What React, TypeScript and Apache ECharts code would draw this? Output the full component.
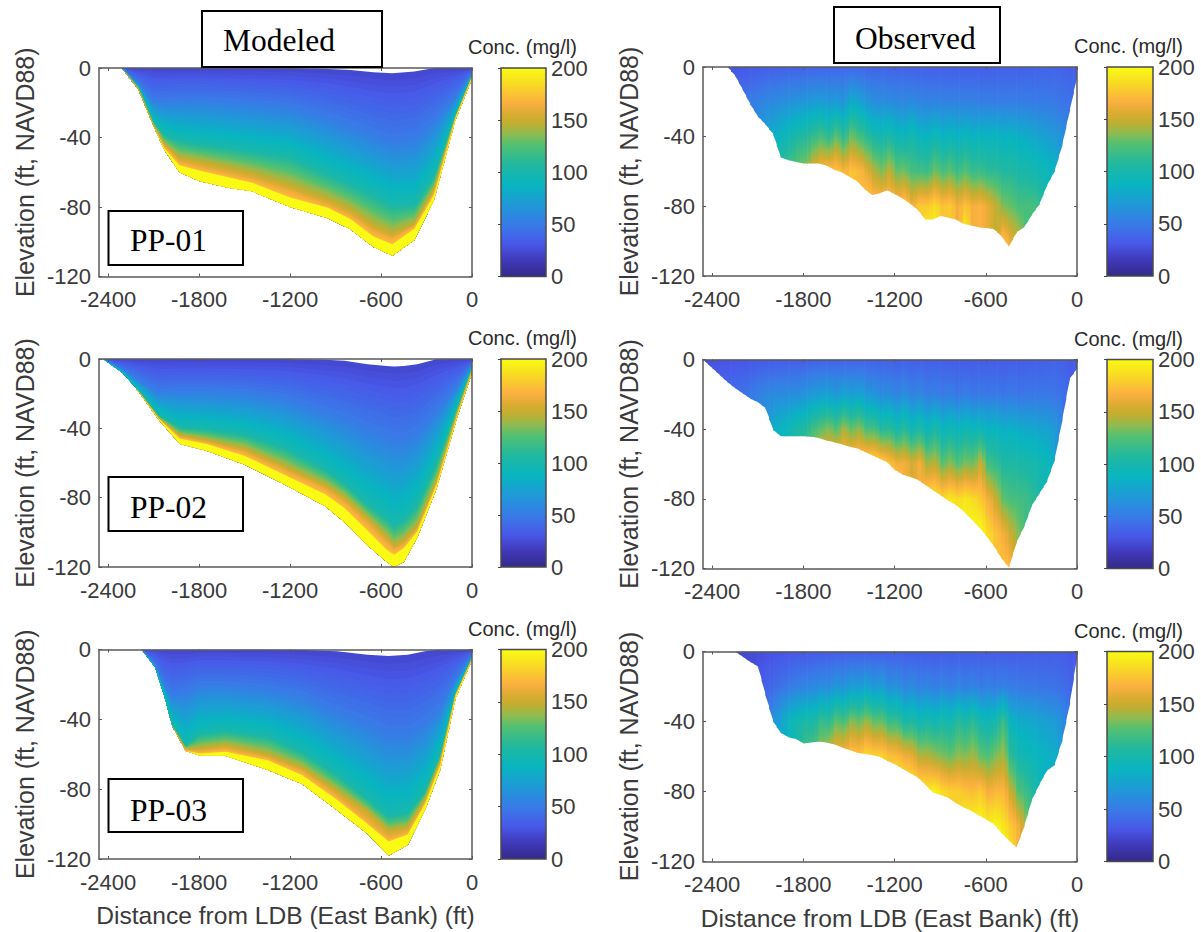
import React, { useEffect, useRef } from "react";
import * as echarts from "echarts";

const xTicks = [-2400, -1800, -1200, -600, 0];
const colorRamp: [number, string][] = [
  [0, "#332a88"], [15, "#4038b8"], [31, "#4858e8"], [48, "#3a78e8"], [68, "#2098d8"], [88, "#08b5c0"],
  [107, "#20b8a0"], [127, "#55c070"], [137, "#90bb50"], [147, "#c0ae30"], [155, "#d8ac30"], [167, "#fbb040"],
  [187, "#f8e020"], [200, "#f9fb15"],
];
const levelConc = [22, 50, 100, 150, 162, 172];
const levelSteps = [10, 18, 18, 5, 3, 1];

// ---- Modeled sections: elevation of each concentration contour at each station
const m1St = [-2310, -2200, -2100, -2030, -1930, -1800, -1600, -1450, -1200, -950, -800, -650, -525, -380, -250, -110, 0];
const m1Top = [0, 0, 0, 0, 0, 0, 0, 0, 0, -0.6, -1.2, -2.5, -3, -2, 0, 0, 0];
const m1Z50 = [0, -9, -19, -19, -18, -18, -19, -20, -22, -28, -33, -38, -42, -40, -30, -17, -3];
const m1Z100 = [0, -11, -31, -38, -41, -43, -45, -47, -50, -60, -66, -72, -78, -78, -62, -27.5, -4.5];
const m1Z150 = [0, -12, -33, -44, -52, -54, -58, -61, -68, -76, -82, -91, -96, -90, -70, -28.5, -5];
const m1Z180 = [0, -12.5, -33.5, -45, -54, -57, -61, -64, -71, -79, -85, -94, -98, -91, -71.5, -29, -5.3];
const m1Z195 = [0, -12.5, -33.5, -46, -56, -59, -63, -66, -74.5, -80.5, -87, -97, -101.5, -92.5, -73, -29, -5.5];
const m1Bed = [0, -12.5, -33.5, -47, -60, -65, -69, -71, -80, -86.5, -93, -103, -108, -99, -76, -30, -6];

const m2St = [-2432, -2305, -2217, -2066, -1927, -1750, -1497, -1245, -967, -841, -689, -563, -513, -449, -361, -235, -96, 0];
const m2Top = [0, 0, 0, 0, 0, 0, 0, 0, -0.5, -1, -3, -4, -4.3, -4, -3, -0.2, 0, 0];
const m2Z50 = [0, -6, -11, -19, -18, -18, -19, -22, -30, -34, -40, -44, -46, -46, -42, -30, -15, -3];
const m2Z100 = [0, -8, -16.6, -32.5, -39, -40, -43, -50, -63, -71, -83, -91, -95, -92, -83, -60, -27, -5];
const m2Z150 = [0, -8, -16.6, -34, -44, -47, -52, -62, -73, -80, -92, -103, -108, -105, -97, -71, -31, -6.5];
const m2Z180 = [0, -8, -16.6, -34.5, -45, -48, -54, -64, -75, -83, -95, -106, -110, -107, -98, -72, -31.5, -7];
const m2Z195 = [0, -8, -16.6, -34.5, -46, -49, -56, -66.5, -78, -86, -99, -110, -113, -109, -99.5, -73, -32, -7.5];
const m2Bed = [0, -8, -16.6, -35, -49, -53, -61, -72, -85, -94, -107.5, -117, -120, -117, -103, -75, -33, -8];

const m3St = [-2179, -2091, -2028, -1977, -1889, -1800, -1624, -1346, -1119, -891, -689, -550, -424, -310, -210, -109, 0];
const m3Top = [0, 0, 0, 0, 0, 0, 0, 0, -0.3, -1, -3, -3.7, -3, -1, 0, 0, 0];
const m3Z50 = [0, -9, -20, -26, -24, -20, -20, -22, -26, -35, -42, -48, -48, -42, -33, -17, -3];
const m3Z100 = [0, -10, -27, -43.5, -55, -48, -46, -49, -58, -71, -85, -95, -93, -81, -60, -25.5, -5];
const m3Z150 = [0, -10, -27, -44, -57, -57, -55, -60.5, -68, -81, -93, -104, -102, -86, -64, -26, -5.2];
const m3Z180 = [0, -10, -27, -44, -57.5, -58.5, -57, -62, -70, -84, -98, -108, -104.5, -87.5, -65.5, -26.3, -5.5];
const m3Z195 = [0, -10, -27, -44, -58, -59.5, -58.5, -63.5, -72, -86, -100, -110, -106, -88.5, -66.5, -26.6, -5.7];
const m3Bed = [0, -10, -27, -44, -58, -60.7, -61, -69, -77, -92, -105.6, -118, -112, -92, -69, -28, -6];

// ---- Observed sections: bed elevation every 50 ft, concentration per column at 0, -20, -40 ... ft
const stationStep = 50;
const depthStep = 20;
const o1Start = -2300;
const o1Bed = [0, -5, -13, -21.5, -28.5, -33, -38.5, -52, -53.5, -54.5, -55.4, -55.4, -55.4, -56.5, -59, -60.5, -63, -65.5, -70, -73.5, -72.5, -70.7, -73, -75.5, -78.5, -82, -87.5, -87.5, -85.5, -86.5, -87.5, -90, -91, -92, -92.5, -93, -97, -103, -95, -92, -85, -79, -68, -60, -45, -25, -5];
const o1Conc = [
  [30], [30, 45], [31, 48], [32, 52], [33, 55, 70], [34, 58, 78], [35, 60, 85, 110], [35, 62, 92, 118], [36, 65, 98, 125], [36, 66, 105, 135],
  [37, 68, 108, 140], [37, 70, 115, 160], [37, 72, 122, 172], [38, 68, 112, 175], [38, 70, 128, 178], [38, 66, 112, 168], [38, 82, 132, 176], [38, 76, 122, 172], [37, 68, 112, 160, 185], [37, 62, 102, 145, 180],
  [37, 62, 98, 135, 178], [36, 60, 104, 148, 180], [36, 58, 95, 130, 175], [36, 58, 92, 132, 182], [35, 60, 100, 122, 165], [35, 56, 90, 120, 178], [35, 55, 88, 118, 178, 200], [34, 56, 96, 132, 185, 200], [34, 55, 88, 122, 175], [34, 55, 92, 128, 178],
  [34, 54, 88, 118, 165], [34, 54, 92, 126, 175, 200], [34, 54, 88, 116, 165], [34, 52, 90, 118, 168], [34, 53, 88, 112, 160], [34, 52, 90, 112, 148], [35, 52, 86, 106, 135, 175], [35, 52, 88, 108, 130, 160], [35, 52, 84, 102, 122, 150], [36, 52, 82, 102, 122],
  [36, 50, 78, 98, 122], [37, 50, 75, 95, 112], [37, 50, 72, 92], [37, 48, 68, 85], [36, 46, 62], [34, 45],
];

const o2Start = -2450;
const o2Bed = [-1, -5, -9, -13, -16.5, -19.5, -22.5, -24.5, -28, -40.5, -44, -44, -44, -44, -44.3, -45, -46.5, -47.5, -48.7, -50, -51, -53, -55, -57, -59, -63.5, -66, -67.5, -69, -72, -75, -78, -81, -83.5, -87, -91.5, -96, -101, -107, -114, -119.5, -105, -96, -84, -77, -70, -58, -35, -11, -5];
const o2Conc = [
  [28], [28, 38], [29, 40], [29, 42], [30, 44], [30, 46], [31, 50], [32, 55, 62], [32, 58, 70], [33, 60, 85],
  [33, 60, 90], [34, 62, 96], [34, 62, 104], [35, 66, 108, 130], [36, 70, 120, 150], [36, 72, 128, 170], [37, 74, 135, 178], [37, 68, 125, 180], [37, 76, 142, 180], [37, 72, 130, 182],
  [37, 76, 138, 185], [37, 68, 122, 190], [36, 66, 122, 190], [36, 60, 108, 185], [35, 62, 112, 175], [35, 56, 100, 165, 200], [35, 62, 110, 165], [35, 54, 96, 155], [34, 58, 105, 165], [34, 52, 92, 142, 190],
  [34, 54, 104, 148, 190], [34, 50, 90, 128, 185], [34, 52, 96, 138, 190], [33, 48, 90, 125, 185, 200], [33, 52, 96, 135, 190, 200], [33, 48, 92, 132, 185, 200], [33, 50, 94, 150, 178, 200], [33, 48, 88, 120, 165, 185], [33, 50, 90, 115, 150, 175], [33, 46, 84, 106, 128, 165, 175],
  [34, 50, 85, 106, 122, 150, 170], [34, 46, 82, 104, 120, 135], [34, 48, 80, 102, 118], [35, 48, 78, 100, 112], [35, 48, 76, 96], [36, 48, 74, 92], [36, 46, 68], [35, 44], [33],
];

const o3Start = -2250;
const o3Bed = [0, -3, -6, -8.5, -25, -40, -46.5, -49, -50, -52.5, -52, -51.5, -52, -53, -54.7, -56.3, -57.8, -58.5, -59.2, -60.2, -62.5, -64.4, -67, -69.5, -72, -76, -80.5, -82, -83.5, -86.5, -89, -91, -93.5, -96, -98.5, -103.5, -108, -112, -100, -85, -76, -68, -65, -51, -30, -2];
const o3Conc = [
  [24], [24], [25], [26, 34], [27, 38, 50], [28, 42, 68], [29, 46, 80], [30, 50, 92], [31, 54, 98, 110], [31, 56, 104, 125],
  [32, 58, 102, 130], [32, 62, 116, 145], [33, 60, 112, 155], [33, 68, 128, 170], [34, 64, 122, 172], [34, 72, 136, 180], [34, 70, 130, 178], [34, 76, 140, 186], [34, 68, 128, 182], [34, 72, 130, 182],
  [34, 62, 116, 175], [34, 64, 118, 172, 200], [34, 56, 102, 165, 200], [33, 60, 106, 160, 200], [33, 54, 96, 145, 195], [33, 56, 102, 145, 192], [33, 52, 96, 140, 195], [33, 56, 102, 135, 185], [33, 52, 98, 130, 180], [33, 56, 110, 138, 180],
  [33, 52, 104, 136, 175, 200], [33, 56, 112, 142, 172, 200], [33, 50, 98, 130, 178, 200], [33, 54, 95, 125, 165, 195], [33, 50, 100, 135, 170, 198], [33, 54, 118, 142, 170, 190, 200], [33, 50, 88, 112, 150, 178, 190], [33, 50, 82, 100, 125, 165], [34, 48, 80, 95, 118, 140], [34, 48, 78, 92, 105],
  [34, 46, 74, 88], [34, 46, 72, 85], [34, 44, 68, 82], [33, 42, 60], [30, 38],
];

function hexToRgb(h: string) {
  return [parseInt(h.slice(1, 3), 16), parseInt(h.slice(3, 5), 16), parseInt(h.slice(5, 7), 16)];
}
function parula(c: number) {
  const v = Math.max(0, Math.min(200, c));
  for (let i = 1; i < colorRamp.length; i++) {
    if (v <= colorRamp[i][0]) {
      const [c0, h0] = colorRamp[i - 1];
      const [c1, h1] = colorRamp[i];
      const f = (v - c0) / (c1 - c0);
      const a = hexToRgb(h0);
      const b = hexToRgb(h1);
      return `rgb(${a.map((x, k) => Math.round(x + (b[k] - x) * f)).join(",")})`;
    }
  }
  return colorRamp[colorRamp.length - 1][1];
}

const axisGrey = "#595959";
const textGrey = "#3a3a3a";
const tickFont = { color: textGrey, fontSize: 22, fontFamily: "Liberation Sans" };

function modeledSeries(st: number[], contours: number[][], gridIdx: number) {
  // painter's order: every strip runs from its own upper edge down to the bed
  const bed = contours[contours.length - 1];
  const strips: { a: number[]; b: number[]; f0: number; c: number }[] = [];
  levelConc.forEach((c0, k) => {
    const last = k === levelConc.length - 1;
    const c1 = last ? 200 : levelConc[k + 1];
    const n = levelSteps[k];
    for (let s = 0; s < n; s++) {
      strips.push({ a: contours[k], b: contours[k + 1], f0: s / n, c: last ? 200 : c0 + ((c1 - c0) * (s + 0.5)) / n });
    }
  });
  return {
    type: "custom", xAxisIndex: gridIdx * 2, yAxisIndex: gridIdx * 2, z: 2, clip: true, silent: true,
    data: strips.map((s) => [s.c]),
    encode: { x: [], y: [] },
    renderItem: (p: any, api: any) => {
      const s = strips[p.dataIndex];
      const upper = st.map((x, i) => api.coord([x, s.a[i] + (s.b[i] - s.a[i]) * s.f0]));
      const lower = st.map((x, i) => api.coord([x, bed[i]])).reverse();
      return { type: "polygon", shape: { points: upper.concat(lower) }, style: { fill: parula(s.c) } };
    },
  };
}

function observedSeries(start: number, bed: number[], conc: number[][], gridIdx: number) {
  const subCols = 2;
  return {
    type: "custom", xAxisIndex: gridIdx * 2, yAxisIndex: gridIdx * 2, z: 2, clip: true, silent: true,
    data: conc.map((_, i) => [start + i * stationStep]),
    encode: { x: 0 },
    renderItem: (p: any, api: any) => {
      const i = p.dataIndex;
      const colA = conc[i];
      const colB = conc[Math.min(i + 1, conc.length - 1)];
      const x0 = start + i * stationStep;
      const children: any[] = [];
      const [, py0] = api.coord([x0, 0]);
      const yLow = api.coord([x0, -120])[1];
      const lvl = (col: number[], l: number) => col[Math.min(l, col.length - 1)];
      for (let sc = 0; sc < subCols; sc++) {
        const f0 = sc / subCols, f1 = (sc + 1) / subCols, fm = sc * 0.35;
        const val = (l: number) => {
          const a = lvl(colA, l), b = lvl(colB, l);
          return a + (b - a) * fm;
        };
        const px0 = api.coord([x0 + stationStep * f0, 0])[0];
        const px1 = api.coord([x0 + stationStep * f1, 0])[0];
        const next = bed[Math.min(i + 1, bed.length - 1)];
        const b0 = api.coord([x0, bed[i] + (next - bed[i]) * f0])[1];
        const b1 = api.coord([x0, bed[i] + (next - bed[i]) * f1])[1];
        const stops: { offset: number; color: string }[] = [];
        const sub = 5;
        for (let l = 0; l < 6; l++) {
          for (let s = 0; s < sub; s++) {
            stops.push({ offset: ((l + s / sub) * depthStep) / 120, color: parula(val(l) + ((val(l + 1) - val(l)) * s) / sub) });
          }
        }
        stops.push({ offset: 1, color: parula(val(6)) });
        children.push({
          type: "polygon",
          shape: { points: [[px0, py0], [px1 + 0.7, py0], [px1 + 0.7, b1], [px0, b0]] },
          style: { fill: new echarts.graphic.LinearGradient(0, py0, 0, yLow, stops, true) },
        });
      }
      return { type: "group", children };
    },
  };
}

const panels: any[] = [
  { left: 99, right: 472, top: 68, bottom: 276.5, cbL: 501, cbR: 546, kind: "m", st: m1St, c: [m1Top, m1Z50, m1Z100, m1Z150, m1Z180, m1Z195, m1Bed] },
  { left: 703, right: 1077, top: 67, bottom: 276, cbL: 1107, cbR: 1153, kind: "o", start: o1Start, bed: o1Bed, conc: o1Conc },
  { left: 99, right: 472, top: 359, bottom: 567, cbL: 501, cbR: 546, kind: "m", st: m2St, c: [m2Top, m2Z50, m2Z100, m2Z150, m2Z180, m2Z195, m2Bed] },
  { left: 703, right: 1077, top: 359.5, bottom: 568.5, cbL: 1107, cbR: 1153, kind: "o", start: o2Start, bed: o2Bed, conc: o2Conc },
  { left: 99, right: 472, top: 649.5, bottom: 859, cbL: 501, cbR: 546, kind: "m", st: m3St, c: [m3Top, m3Z50, m3Z100, m3Z150, m3Z180, m3Z195, m3Bed], xName: true },
  { left: 703, right: 1077, top: 651.5, bottom: 861.5, cbL: 1107, cbR: 1153, kind: "o", start: o3Start, bed: o3Bed, conc: o3Conc, xName: true },
];

const textBoxes = [
  { x: 202, y: 11, w: 180, h: 56, tx: 223, ty: 40, text: "Modeled" },
  { x: 834, y: 7, w: 166, h: 56, tx: 855, ty: 38, text: "Observed" },
  { x: 108.5, y: 211, w: 134.5, h: 54, tx: 130, ty: 240, text: "PP-01" },
  { x: 108.5, y: 477, w: 134.5, h: 54, tx: 130, ty: 507, text: "PP-02" },
  { x: 108.5, y: 779, w: 134.5, h: 53, tx: 130, ty: 810, text: "PP-03" },
];

function buildOption() {
  const grid: any[] = [], xAxis: any[] = [], yAxis: any[] = [], series: any[] = [], title: any[] = [];
  const line = { show: true, onZero: false, lineStyle: { color: axisGrey, width: 1.5 } };
  panels.forEach((p, i) => {
    grid.push({ left: p.left, top: p.top, width: p.right - p.left, height: p.bottom - p.top });
    const xTick = { show: true, inside: true, length: 3, customValues: xTicks, lineStyle: { color: axisGrey } };
    xAxis.push({
      type: "value", gridIndex: i, position: "bottom", min: -2460, max: 0, z: 5, splitLine: { show: false },
      axisLine: line, axisTick: xTick,
      axisLabel: { ...tickFont, margin: 12, customValues: xTicks, formatter: (v: number) => String(v) },
      ...(p.xName ? {
        name: "Distance from LDB (East Bank) (ft)", nameLocation: "middle", nameGap: 44,
        nameTextStyle: { color: textGrey, fontSize: 24.6, fontFamily: "Liberation Sans" },
      } : {}),
    });
    xAxis.push({
      type: "value", gridIndex: i, position: "top", min: -2460, max: 0, z: 5, splitLine: { show: false },
      axisLine: line, axisTick: xTick, axisLabel: { show: false },
    });
    const yBase = { type: "value", gridIndex: i, min: -120, max: 0, interval: 40, z: 5, splitLine: { show: false } };
    const yTick = { show: true, inside: true, length: 3, lineStyle: { color: axisGrey } };
    yAxis.push({
      ...yBase, position: "left", axisLine: line, axisTick: yTick,
      axisLabel: { ...tickFont, margin: 8 },
      name: "Elevation (ft, NAVD88)", nameLocation: "middle", nameRotate: 90, nameGap: 62,
      nameTextStyle: { color: textGrey, fontSize: 25, fontFamily: "Liberation Sans" },
    });
    yAxis.push({ ...yBase, position: "right", axisLine: line, axisTick: yTick, axisLabel: { show: false } });
    series.push(
      p.kind === "m" ? modeledSeries(p.st, p.c, i) : observedSeries(p.start, p.bed, p.conc, i)
    );
  });
  // colour bars
  const n = panels.length;
  panels.forEach((p, i) => {
    const g = n + i;
    grid.push({ left: p.cbL, top: p.top, width: p.cbR - p.cbL, height: p.bottom - p.top });
    xAxis.push({ type: "value", gridIndex: g, min: 0, max: 1, show: false });
    xAxis.push({ type: "value", gridIndex: g, min: 0, max: 1, show: false });
    yAxis.push({ type: "value", gridIndex: g, min: 0, max: 200, interval: 50, show: false, position: "left" });
    yAxis.push({
      type: "value", gridIndex: g, min: 0, max: 200, interval: 50, position: "right", z: 5, splitLine: { show: false },
      axisLine: { show: false },
      axisTick: { show: true, inside: true, length: 3, lineStyle: { color: "#444" } },
      axisLabel: { ...tickFont, margin: 5 },
    });
    series.push({
      type: "custom", xAxisIndex: g * 2, yAxisIndex: g * 2, z: 2, silent: true, clip: false,
      data: [[0, 0]],
      renderItem: (_: any, api: any) => {
        const a = api.coord([0, 200]);
        const b = api.coord([1, 0]);
        const fill = new echarts.graphic.LinearGradient(
          0, 0, 0, 1, colorRamp.map(([c, col]) => ({ offset: 1 - c / 200, color: col })).reverse()
        );
        return {
          type: "rect", shape: { x: a[0], y: a[1], width: b[0] - a[0], height: b[1] - a[1] },
          style: { fill, stroke: "#4a4a4a", lineWidth: 1.5 },
        };
      },
    });
    title.push({
      text: "Conc. (mg/l)", left: p.cbL - 33, top: p.top - 30, padding: 0,
      textStyle: { color: "#2a2a2a", fontSize: 20, lineHeight: 18, fontWeight: "normal", fontFamily: "Liberation Sans" },
    });
  });
  const graphic: any[] = [];
  textBoxes.forEach((b) => {
    graphic.push({
      type: "rect", z: 50, shape: { x: b.x, y: b.y, width: b.w, height: b.h },
      style: { fill: "#fff", stroke: "#000", lineWidth: 2 },
    });
    graphic.push({
      type: "text", z: 51, x: b.tx, y: b.ty,
      style: { text: b.text, fill: "#000", font: '31.5px "Liberation Serif"', verticalAlign: "middle", align: "left" },
    });
  });
  return { animation: false, backgroundColor: "#fff", grid, xAxis, yAxis, series, title, graphic };
}

export default function App() {
  const ref = useRef<HTMLDivElement>(null);
  useEffect(() => {
    const chart = echarts.init(ref.current!, undefined, { renderer: "svg" });
    chart.setOption(buildOption() as any);
    return () => chart.dispose();
  }, []);
  return <div ref={ref} style={{ position: "absolute", left: 0, top: 0, width: 1201, height: 932 }} />;
}
